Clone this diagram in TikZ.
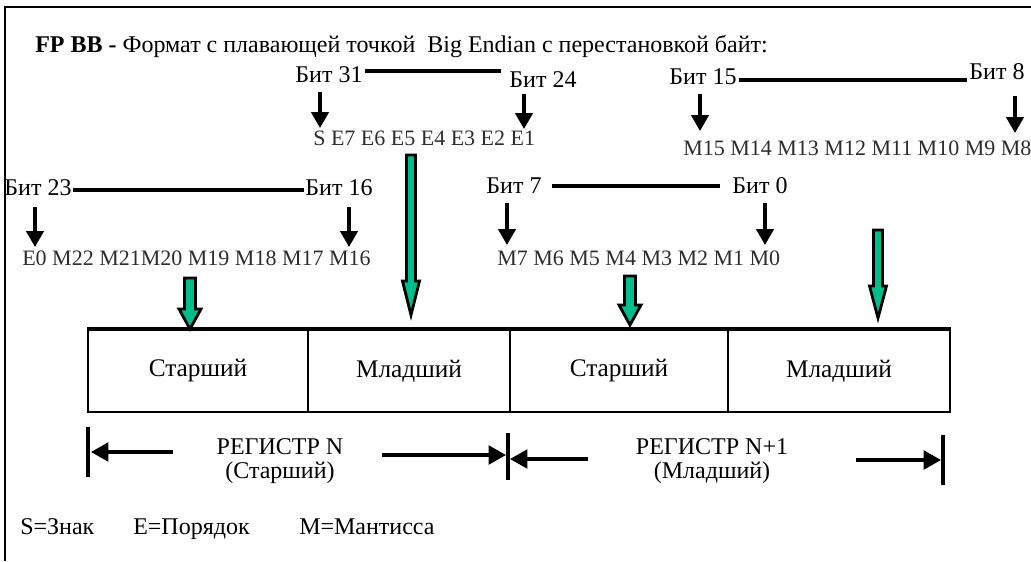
\documentclass[tikz,border=0pt]{standalone}
\usepackage{fontspec}
\setmainfont{Liberation Serif}
\usetikzlibrary{arrows.meta,calc}
\definecolor{gfill}{RGB}{0,190,140}
\definecolor{rowgray}{RGB}{45,45,45}
\newcommand\greenarrow[5]{%
  \draw[garrow] ($(#1)+(-#3,0)$) -- ($(#2)+(-#3,-#5)$) -- ($(#2)+(-#4,-#5)$) -- (#2)
    -- ($(#2)+(#4,-#5)$) -- ($(#2)+(#3,-#5)$) -- ($(#1)+(#3,0)$) -- cycle;}
\begin{document}
\begin{tikzpicture}[x=0.75pt,y=-0.75pt,
  lbl/.style={inner sep=0pt,font=\fontsize{18}{20}\selectfont},
  rowtxt/.style={inner sep=0pt,anchor=west,text=rowgray,font=\fontsize{16.5}{18}\selectfont},
  span/.style={line width=2.4pt},
  bitarrow/.style={line width=2.6pt,-{Triangle[width=13pt,length=12pt]}},
  garrow/.style={fill=gfill,draw=black,line width=2.1pt,line join=miter},
  cell/.style={draw,line width=1.6pt,minimum width=#1*0.75pt,minimum height=82*0.75pt,inner sep=0pt,font=\fontsize{19}{21}\selectfont},
  dimarrow/.style={line width=2.4pt,-{Triangle[width=14pt,length=13pt]}},
  tick/.style={line width=2.4pt},
  reg/.style={align=center,inner sep=0pt,font=\fontsize{18}{17.5}\selectfont},
  legend/.style={inner sep=0pt,anchor=base west,font=\fontsize{18}{20}\selectfont}]
\useasboundingbox (0,0) rectangle (1031,561);
% frame
\coordinate (fTL) at (5,7);
\coordinate (fTR) at (1031,7);
\coordinate (fBL) at (5,561);
\draw[line width=2pt] (fBL) -- (fTL) -- (fTR);
% title
\node[inner sep=0pt,anchor=west,font=\fontsize{18}{20}\selectfont] (title) at (35,46)
  {\textbf{FP BB -} Формат с плавающей точкой\ \ Big Endian с перестановкой байт:};
% group 1
\node[lbl] (b31) at (329,75) {Бит 31};
\node[lbl] (b24) at (543,80) {Бит 24};
\draw[span] ($(b31.east)+(2,-4)$) -- ($(b24.west)+(-8,-9)$);
\node[rowtxt] (r1) at (313,138) {S E7 E6 E5 E4 E3 E2 E1};
\coordinate (a1s) at (320,92); \coordinate (a1e) at (320,128);
\coordinate (a2s) at (524,94); \coordinate (a2e) at (524,129);
\draw[bitarrow] (a1s) -- (a1e);
\draw[bitarrow] (a2s) -- (a2e);
% group 2
\node[lbl] (b15) at (703,77) {Бит 15};
\node[lbl] (b8) at (997,72) {Бит 8};
\draw[span] ($(b15.east)+(2,3)$) -- ($(b8.west)+(-2,8)$);
\node[rowtxt] (r2) at (683,148) {M15 M14 M13 M12 M11 M10 M9 M8};
\coordinate (a3s) at (700,94); \coordinate (a3e) at (700,131);
\coordinate (a4s) at (1015,96); \coordinate (a4e) at (1015,133);
\draw[bitarrow] (a3s) -- (a3e);
\draw[bitarrow] (a4s) -- (a4e);
% group 3
\node[lbl] (b23) at (38,188) {Бит 23};
\node[lbl] (b16) at (339,188) {Бит 16};
\draw[span] ($(b23.east)+(1,2)$) -- ($(b16.west)+(-1,2)$);
\node[rowtxt] (r3) at (22,258) {E0 M22 M21M20 M19 M18 M17 M16};
\coordinate (a5s) at (35,207); \coordinate (a5e) at (35,247);
\coordinate (a6s) at (349,207); \coordinate (a6e) at (349,247);
\draw[bitarrow] (a5s) -- (a5e);
\draw[bitarrow] (a6s) -- (a6e);
% group 4
\node[lbl] (b7) at (514,186) {Бит 7};
\node[lbl] (b0) at (760,186) {Бит 0};
\draw[span] ($(b7.east)+(10,0)$) -- ($(b0.west)+(-12,0)$);
\node[rowtxt] (r4) at (497,258) {M7 M6 M5 M4 M3 M2 M1 M0};
\coordinate (a7s) at (507,203); \coordinate (a7e) at (507,245);
\coordinate (a8s) at (765,203); \coordinate (a8e) at (765,245);
\draw[bitarrow] (a7s) -- (a7e);
\draw[bitarrow] (a8s) -- (a8e);
% register cells
\node[cell=220] (c1) at (198,371) {Старший};
\node[cell=202] (c2) at (409,371) {\raisebox{4pt}{Младший}};
\node[cell=218] (c3) at (619,371) {Старший};
\node[cell=222] (c4) at (839,371) {Младший};
\draw[line width=2.6pt] (c1.north west) -- (c4.north east);
% green arrows
\coordinate (g1s) at (411,155); \coordinate (g1e) at (411,315);
\coordinate (g2s) at (878,230); \coordinate (g2e) at (878,318);
\coordinate (g3s) at (190,278); \coordinate (g3e) at (190,329);
\coordinate (g4s) at (630,276); \coordinate (g4e) at (630,325);
\greenarrow{g1s}{g1e}{4.5}{8.5}{34}
\greenarrow{g2s}{g2e}{4.5}{8.5}{32}
\greenarrow{g3s}{g3e}{5.5}{11}{20}
\greenarrow{g4s}{g4e}{5.5}{11}{20}
% register dimension row
\coordinate (t1a) at (88,427); \coordinate (t1b) at (88,477);
\coordinate (t2a) at (508,433); \coordinate (t2b) at (508,480);
\coordinate (t3a) at (943,435); \coordinate (t3b) at (943,485);
\draw[tick] (t1a) -- (t1b);
\draw[tick] (t2a) -- (t2b);
\draw[tick] (t3a) -- (t3b);
\node[reg] (regN) at (280,461) {РЕГИСТР N\\(Старший)};
\node[reg] (regN1) at (712,461) {РЕГИСТР N+1\\(Младший)};
\coordinate (d1s) at (173,452); \coordinate (d1e) at (91,452);
\coordinate (d2s) at (382,455); \coordinate (d2e) at (506,455);
\coordinate (d3s) at (588,459); \coordinate (d3e) at (510,459);
\coordinate (d4s) at (856,460); \coordinate (d4e) at (941,460);
\draw[dimarrow] (d1s) -- (d1e);
\draw[dimarrow] (d2s) -- (d2e);
\draw[dimarrow] (d3s) -- (d3e);
\draw[dimarrow] (d4s) -- (d4e);
% legend
\node[legend] (lS) at (20,534) {S=Знак};
\node[legend] (lE) at (133,534) {E=Порядок};
\node[legend] (lM) at (299,534) {M=Мантисса};
\end{tikzpicture}
\end{document}
